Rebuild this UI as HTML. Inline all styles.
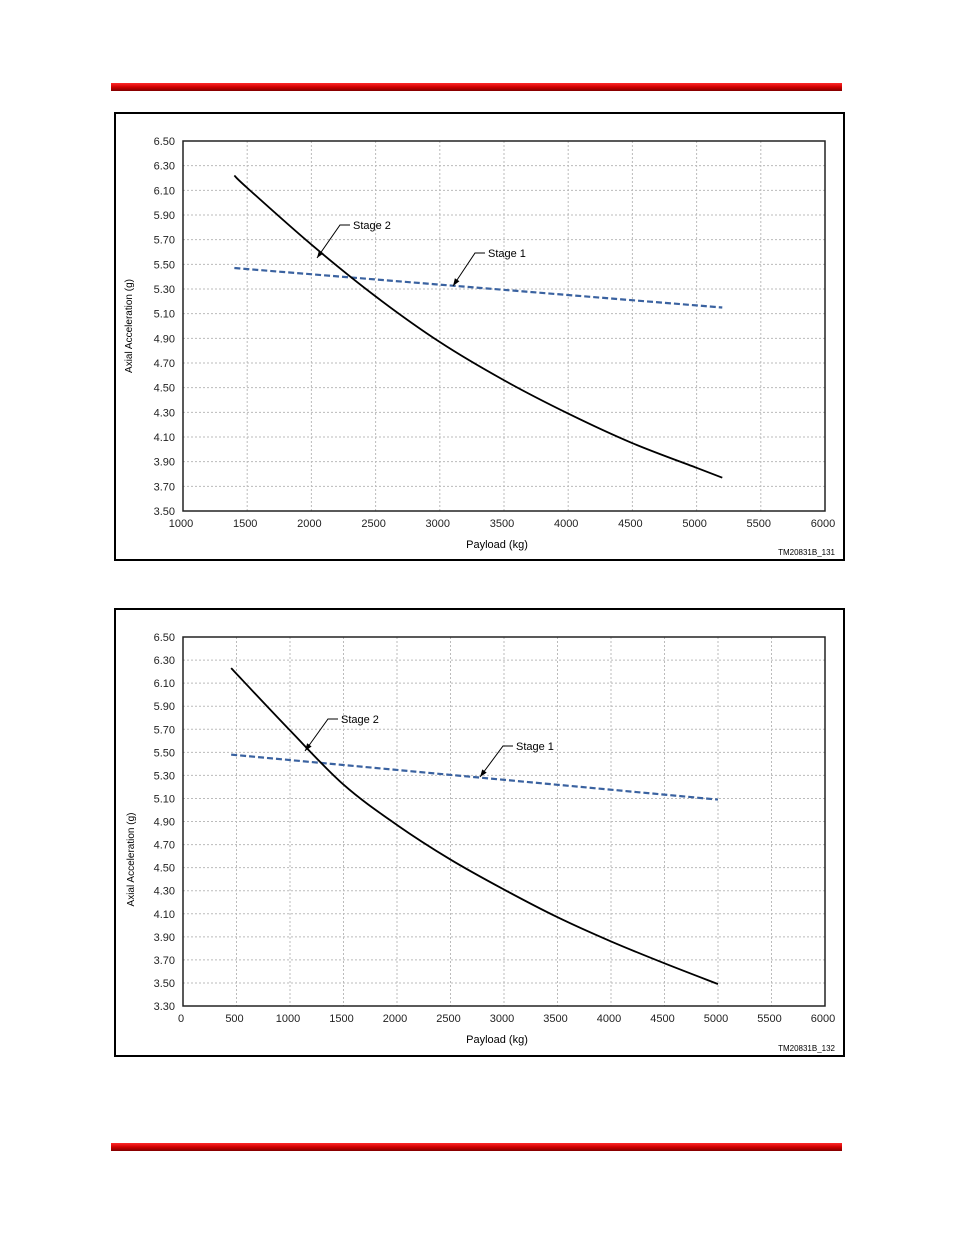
<!DOCTYPE html>
<html><head><meta charset="utf-8"><style>
body{margin:0;background:#fff;width:954px;height:1235px;overflow:hidden;position:relative;font-family:"Liberation Sans",sans-serif}
.bar{position:absolute;left:111px;width:731px;height:8px;background:linear-gradient(#ff2a2a,#d00000 50%,#800000)}
svg{position:absolute;left:0;top:0}
</style></head><body>
<div class="bar" style="top:83px"></div>
<div class="bar" style="top:1143px"></div>
<svg id="s" width="954" height="1235"></svg>
<script>
const c1Ticks=[1000,1500,2000,2500,3000,3500,4000,4500,5000,5500,6000];
const c1YTicks=["3.50","3.70","3.90","4.10","4.30","4.50","4.70","4.90","5.10","5.30","5.50","5.70","5.90","6.10","6.30","6.50"];
const c1S2x=[1400,1500,2000,2500,3000,3500,4000,4500,5000,5200];
const c1S2y=[6.22,6.12,5.66,5.24,4.87,4.56,4.29,4.05,3.85,3.77];
const c1S1x=[1400,5200];
const c1S1y=[5.47,5.15];
const c2Ticks=[0,500,1000,1500,2000,2500,3000,3500,4000,4500,5000,5500,6000];
const c2YTicks=["3.30","3.50","3.70","3.90","4.10","4.30","4.50","4.70","4.90","5.10","5.30","5.50","5.70","5.90","6.10","6.30","6.50"];
const c2S2x=[450,1000,1500,2000,2500,3000,3500,4000,4500,5000];
const c2S2y=[6.23,5.69,5.22,4.87,4.57,4.31,4.07,3.86,3.67,3.49];
const c2S1x=[450,5000];
const c2S1y=[5.48,5.09];
const NS="http://www.w3.org/2000/svg",svg=document.getElementById('s');
function mk(t,a,p){const e=document.createElementNS(NS,t);for(const k in a)e.setAttribute(k,a[k]);(p||svg).appendChild(e);return e;}
function chart(o){
 const g=mk('g',{});
 
 
 const box=mk('rect',{x:115,y:o.boxY,width:729,height:447,fill:'none',stroke:'#000','stroke-width':2},g);
 
 
 const L=183,R=825,T=o.top,B=o.bot;
 const x0=o.xt[0],x1=o.xt[o.xt.length-1],y0=+o.yt[0],y1=+o.yt[o.yt.length-1];
 const sx=v=>L+(v-x0)/(x1-x0)*(R-L),sy=v=>B-(v-y0)/(y1-y0)*(B-T);
 o.xt.forEach(v=>{const X=sx(v);
  if(v>x0&&v<x1){const l=mk('line',{x1:X,x2:X,y1:T,y2:B,stroke:'#bbb','stroke-dasharray':'2,2'},g);}
  const t=mk('text',{x:X-2,y:B+16,'font-size':11,'text-anchor':'middle',fill:'#222'},g);t.textContent=v;
  });
 o.yt.forEach(v=>{const Y=sy(+v);
  if(+v>y0&&+v<y1){const l=mk('line',{x1:L,x2:R,y1:Y,y2:Y,stroke:'#bbb','stroke-dasharray':'2,2'},g);}
  const t=mk('text',{x:175,y:Y+4,'font-size':11,'text-anchor':'end',fill:'#222'},g);t.textContent=v;
  });
 const pa=mk('rect',{x:L,y:T,width:R-L,height:B-T,fill:'none',stroke:'#222','stroke-width':1.5},g);
 
 const pts=(xs,ys)=>xs.map((v,i)=>sx(v)+','+sy(ys[i])).join(' ');
 const s1=mk('polyline',{points:pts(o.s1x,o.s1y),fill:'none',stroke:'#3a62a0','stroke-width':2.2,'stroke-dasharray':'6,3'},g);
 
 let d='M'+sx(o.s2x[0])+','+sy(o.s2y[0]);
 for(let i=1;i<o.s2x.length;i++){const p0=[sx(o.s2x[Math.max(i-2,0)]),sy(o.s2y[Math.max(i-2,0)])],p1=[sx(o.s2x[i-1]),sy(o.s2y[i-1])],p2=[sx(o.s2x[i]),sy(o.s2y[i])],p3=[sx(o.s2x[Math.min(i+1,o.s2x.length-1)]),sy(o.s2y[Math.min(i+1,o.s2x.length-1)])];
  d+=` C${p1[0]+(p2[0]-p0[0])/6},${p1[1]+(p2[1]-p0[1])/6} ${p2[0]-(p3[0]-p1[0])/6},${p2[1]-(p3[1]-p1[1])/6} ${p2[0]},${p2[1]}`;}
 const s2=mk('path',{d:d,fill:'none',stroke:'#000','stroke-width':1.8},g);
 
 o.ann.forEach(a=>{const p=mk('polyline',{points:`${a[0]},${a[1]} ${a[2]},${a[3]} ${a[2]+10},${a[3]}`,fill:'none',stroke:'#000','stroke-width':1},g);
  
  const ang=Math.atan2(a[1]-a[3],a[0]-a[2]),h=8;
  mk('polygon',{points:`${a[0]},${a[1]} ${a[0]-h*Math.cos(ang-0.35)},${a[1]-h*Math.sin(ang-0.35)} ${a[0]-h*Math.cos(ang+0.35)},${a[1]-h*Math.sin(ang+0.35)}`,fill:'#000'},g);
  const t=mk('text',{x:a[2]+13,y:a[3]+4,'font-size':11},g);t.textContent=a[4];
  });
 const xt=mk('text',{x:497,y:B+37,'font-size':11,'text-anchor':'middle'},g);xt.textContent='Payload (kg)';
 
 const yt=mk('text',{x:0,y:0,'font-size':10,'text-anchor':'middle',transform:`translate(${o.ytx},${(T+B)/2+o.ytoff}) rotate(-90)`},g);yt.textContent='Axial Acceleration (g)';
 
 const id=mk('text',{x:835,y:o.boxY+442,'font-size':8,'text-anchor':'end'},g);id.textContent=o.id;
 
}
chart({name:'chart-1',boxY:113,top:141,bot:511,xt:c1Ticks,yt:c1YTicks,s2x:c1S2x,s2y:c1S2y,s1x:c1S1x,s1y:c1S1y,ytx:132,ytoff:0,id:'TM20831B_131',
 ann:[[317,258,340,225,'Stage 2'],[453,286,475,253,'Stage 1']]});
chart({name:'chart-2',boxY:609,top:637,bot:1006,xt:c2Ticks,yt:c2YTicks,s2x:c2S2x,s2y:c2S2y,s1x:c2S1x,s1y:c2S1y,ytx:134,ytoff:38,id:'TM20831B_132',
 ann:[[305,751,328,719,'Stage 2'],[480,777,503,746,'Stage 1']]});
</script>
</body></html>
